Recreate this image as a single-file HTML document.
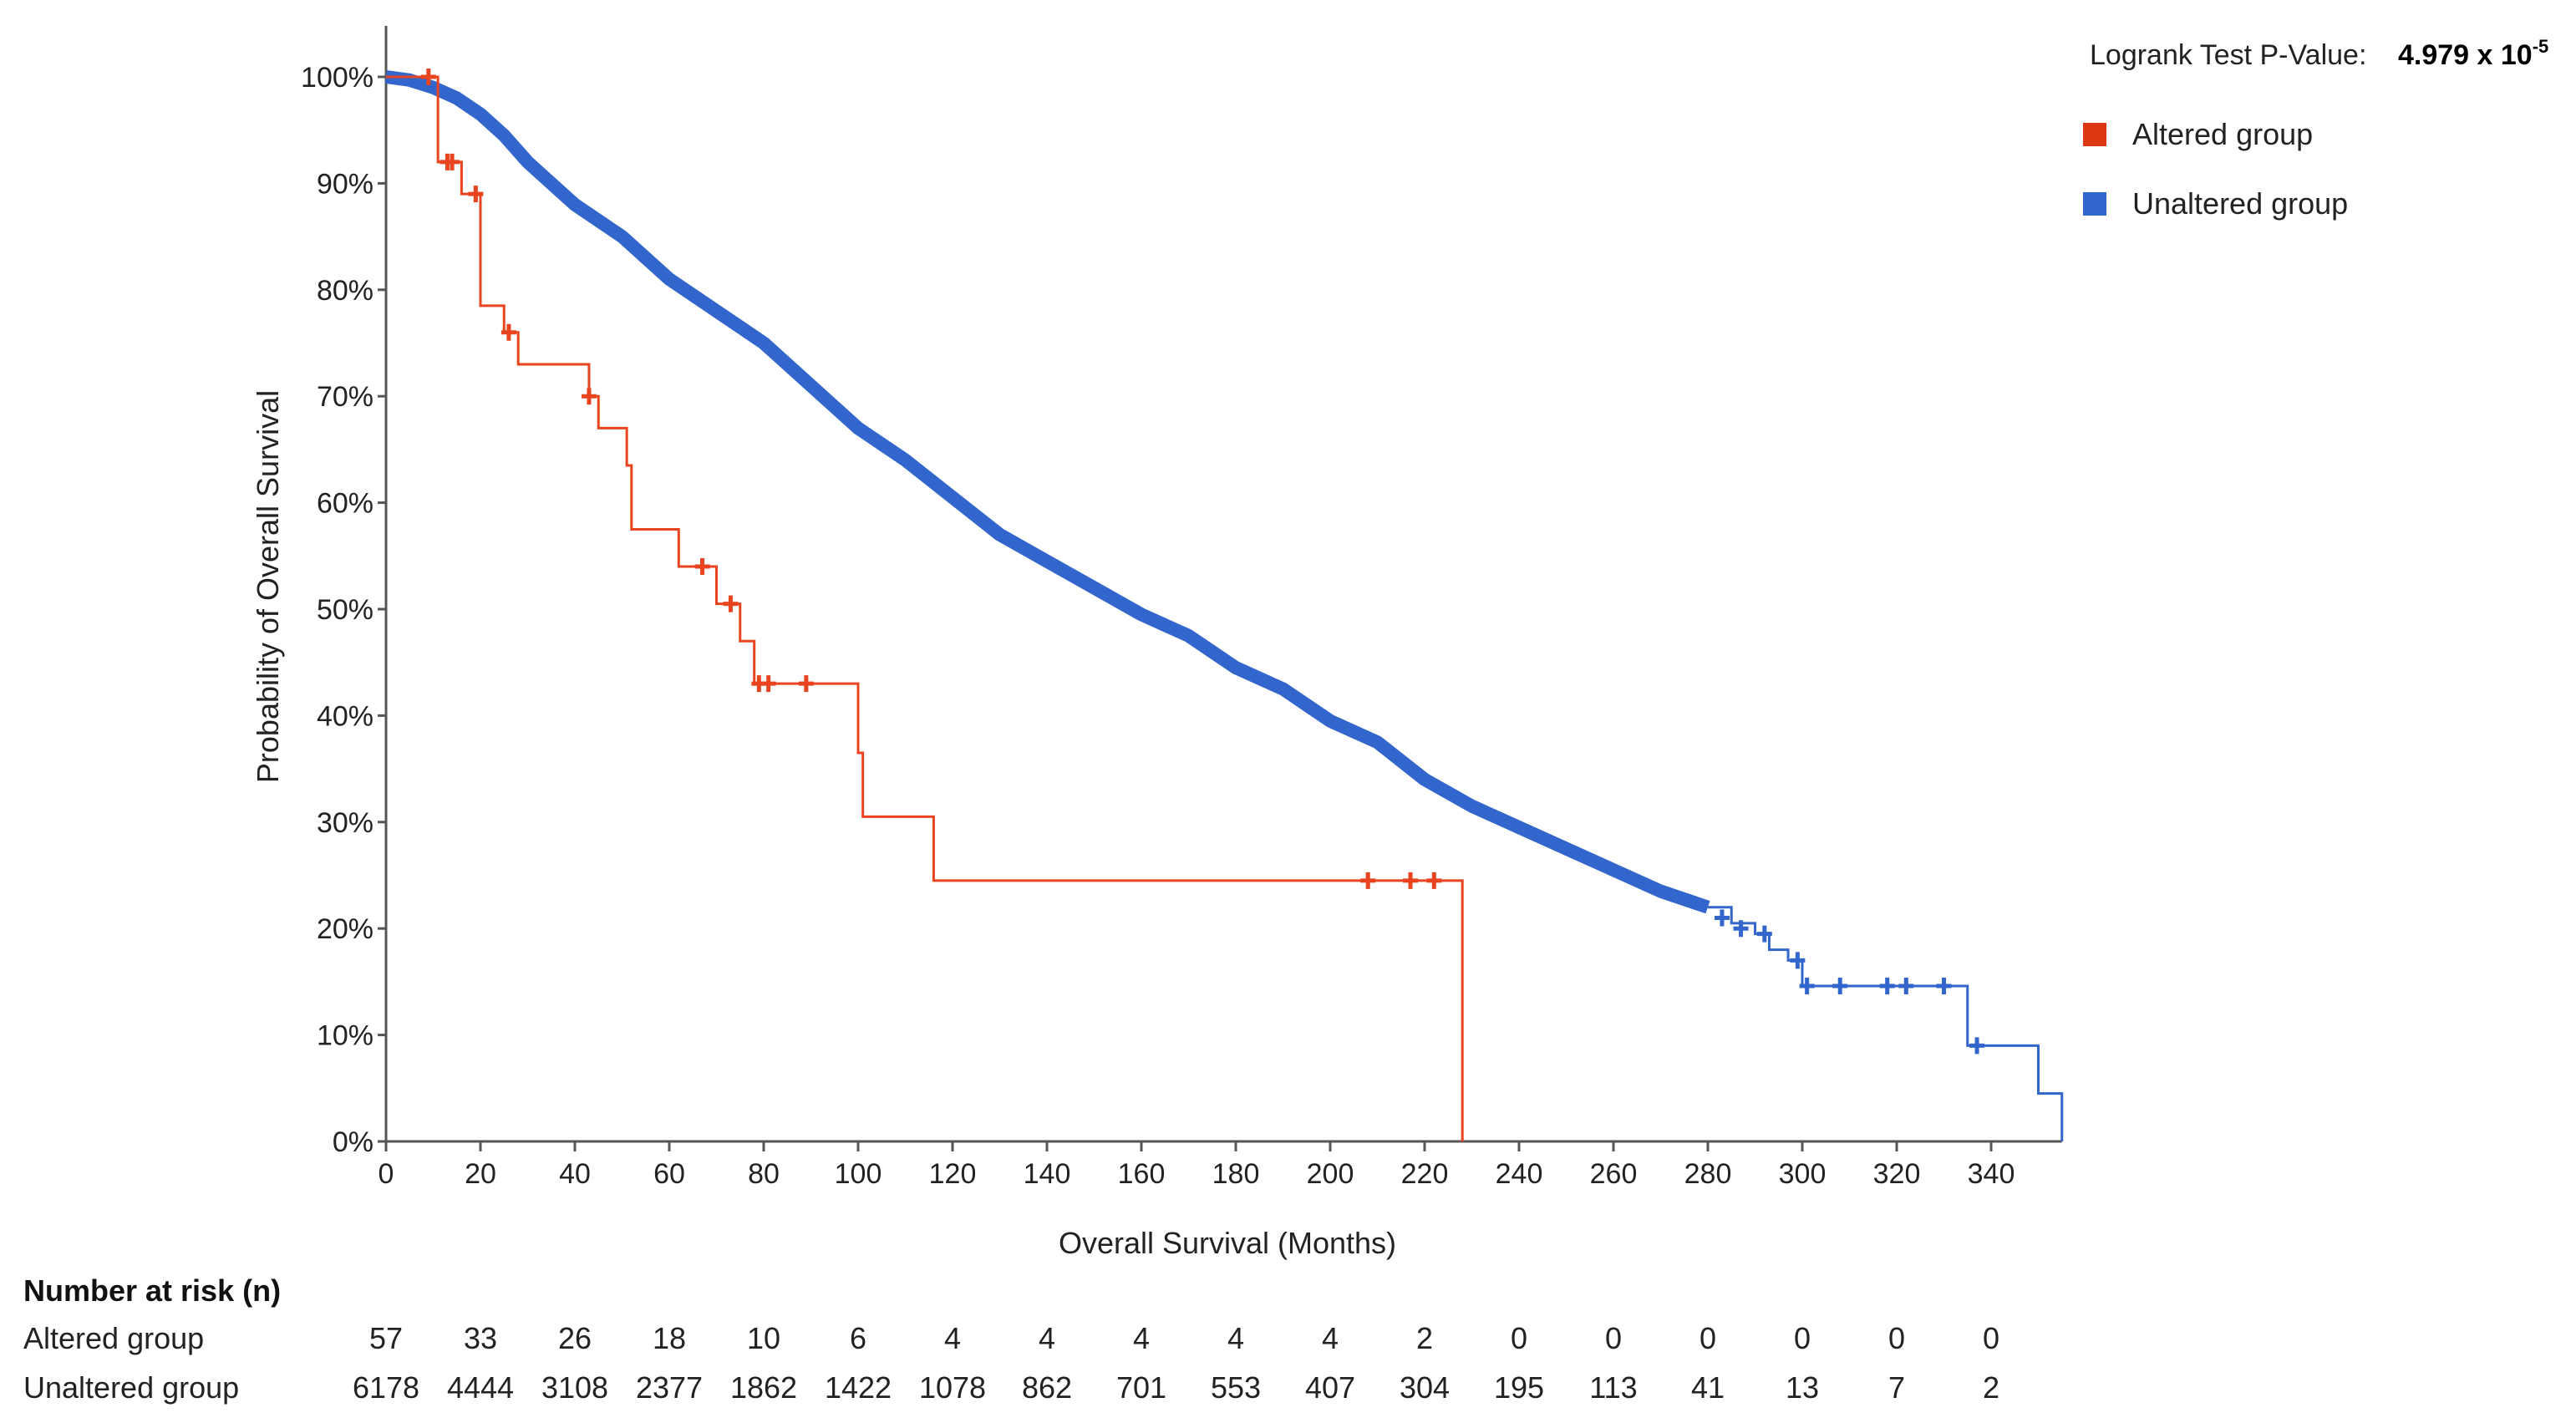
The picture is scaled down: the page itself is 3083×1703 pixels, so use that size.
<!DOCTYPE html>
<html><head><meta charset="utf-8"><style>
html,body{margin:0;padding:0;background:#fff;}
svg{display:block;font-family:"Liberation Sans",Arial,sans-serif;}
</style></head><body>
<svg id="chart" width="3083" height="1703" viewBox="0 0 3083 1703">
<g id="axes"></g>
<g id="series"></g>
<g id="risk"></g>
<g id="legend">
<text x="2501" y="77" font-size="34" fill="#222">Logrank Test P-Value:</text>
<text x="2870" y="77" font-size="34" font-weight="bold" fill="#000">4.979 x 10<tspan dy="-14" font-size="22">-5</tspan></text>
<rect x="2493" y="147" width="28" height="28" fill="#dc3912"/>
<text x="2552" y="173" font-size="36" fill="#222">Altered group</text>
<rect x="2493" y="230" width="28" height="28" fill="#3366cc"/>
<text x="2552" y="256" font-size="36" fill="#222">Unaltered group</text>
</g>
</svg>
<script>
const xTicks=[0,20,40,60,80,100,120,140,160,180,200,220,240,260,280,300,320,340];
const yTicks=[0,10,20,30,40,50,60,70,80,90,100];
const alteredRisk=[57,33,26,18,10,6,4,4,4,4,4,2,0,0,0,0,0,0];
const unalteredRisk=[6178,4444,3108,2377,1862,1422,1078,862,701,553,407,304,195,113,41,13,7,2];
const redT=[0,11,16,20,25,28,43,45,51,52,62,70,75,78,100,101,116,228];
const redS=[100,92,89,78.5,76,73,70,67,63.5,57.5,54,50.5,47,43,36.5,30.5,24.5,0];
const redCensT=[9,13,14,19,26,43,67,73,79,81,89,208,217,222];
const blueT=[0,5,10,15,20,25,30,35,40,50,60,70,80,90,100,110,120,130,140,150,160,170,180,190,200,210,220,230,240,250,260,270,280];
const blueS=[100,99.7,99,98,96.5,94.5,92,90,88,85,81,78,75,71,67,64,60.5,57,54.5,52,49.5,47.5,44.5,42.5,39.5,37.5,34,31.5,29.5,27.5,25.5,23.5,22];
const blueTailT=[280,285,290,293,297,300,335,350,355];
const blueTailS=[22,20.5,19.5,18,17,14.6,9,4.5,0];
const blueCensT=[283,287,292,299,301,308,318,322,330,337];
const blueCensS=[21,20,19.5,17,14.6,14.6,14.6,14.6,14.6,9];
const NS="http://www.w3.org/2000/svg";
const X=m=>462+m*5.65, Y=p=>1366-p*12.74;
function mk(tag,attrs,parent,txt){const e=document.createElementNS(NS,tag);for(const k in attrs)e.setAttribute(k,attrs[k]);if(txt!==undefined)e.textContent=txt;parent.appendChild(e);return e;}
const ax=document.getElementById('axes'),se=document.getElementById('series'),rk=document.getElementById('risk');
let l=mk('line',{x1:462,y1:31,x2:462,y2:1366,stroke:'#555','stroke-width':3},ax);


l=mk('line',{x1:462,y1:1366,x2:X(355),y2:1366,stroke:'#555','stroke-width':3},ax);


yTicks.forEach(v=>{mk('line',{x1:452,y1:Y(v),x2:462,y2:Y(v),stroke:'#555','stroke-width':3},ax);
const t=mk('text',{x:447,y:Y(v)+12,'font-size':34,'text-anchor':'end',fill:'#222'},ax,v+'%');

});
xTicks.forEach((v,i)=>{mk('line',{x1:X(v),y1:1366,x2:X(v),y2:1378,stroke:'#555','stroke-width':3},ax);
const t=mk('text',{x:X(v),y:1416,'font-size':34,'text-anchor':'middle',fill:'#222'},ax,v);


const a=mk('text',{x:X(v),y:1614,'font-size':36,'text-anchor':'middle',fill:'#222'},rk,alteredRisk[i]);


const u=mk('text',{x:X(v),y:1673,'font-size':36,'text-anchor':'middle',fill:'#222'},rk,unalteredRisk[i]);

});
let t=mk('text',{x:1469,y:1500,'font-size':36,'text-anchor':'middle',fill:'#222'},ax,'Overall Survival (Months)');


t=mk('text',{x:0,y:0,'font-size':36,'text-anchor':'middle',fill:'#222',transform:'translate(333,702) rotate(-90)'},ax,'Probability of Overall Survival');


t=mk('text',{x:28,y:1557,'font-size':36,'font-weight':'bold',fill:'#111'},rk,'Number at risk (n)');


t=mk('text',{x:28,y:1614,'font-size':36,fill:'#222'},rk,'Altered group');


t=mk('text',{x:28,y:1673,'font-size':36,fill:'#222'},rk,'Unaltered group');


function stepPath(T,S){let d='M'+X(T[0])+' '+Y(S[0]);for(let i=1;i<T.length;i++){d+=' L'+X(T[i])+' '+Y(S[i-1])+' L'+X(T[i])+' '+Y(S[i]);}return d;}
let p=mk('path',{d:stepPath(blueTailT,blueTailS),fill:'none',stroke:'#3366cc','stroke-width':3},se);


let d='M'+blueT.map((v,i)=>X(v)+' '+Y(blueS[i])).join(' L');
p=mk('path',{d:d,fill:'none',stroke:'#3366cc','stroke-width':16,'stroke-linejoin':'round','stroke-linecap':'butt'},se);


p=mk('path',{d:stepPath(redT,redS),fill:'none',stroke:'#e8441f','stroke-width':3},se);


function survAt(T,S,m){let s=S[0];for(let i=0;i<T.length;i++){if(T[i]<=m)s=S[i];}return s;}
function cross(x,y,c,parent,name){const g=mk('path',{d:`M${x-9} ${y} L${x+9} ${y} M${x} ${y-10} L${x} ${y+10}`,stroke:c,'stroke-width':5},parent);

}
redCensT.forEach(m=>cross(X(m),Y(survAt(redT,redS,m)),'#e8441f',se,'altered-censor-mark'));
blueCensT.forEach((m,i)=>cross(X(m),Y(blueCensS[i]),'#3366cc',se,'unaltered-censor-mark'));
</script>
</body></html>
